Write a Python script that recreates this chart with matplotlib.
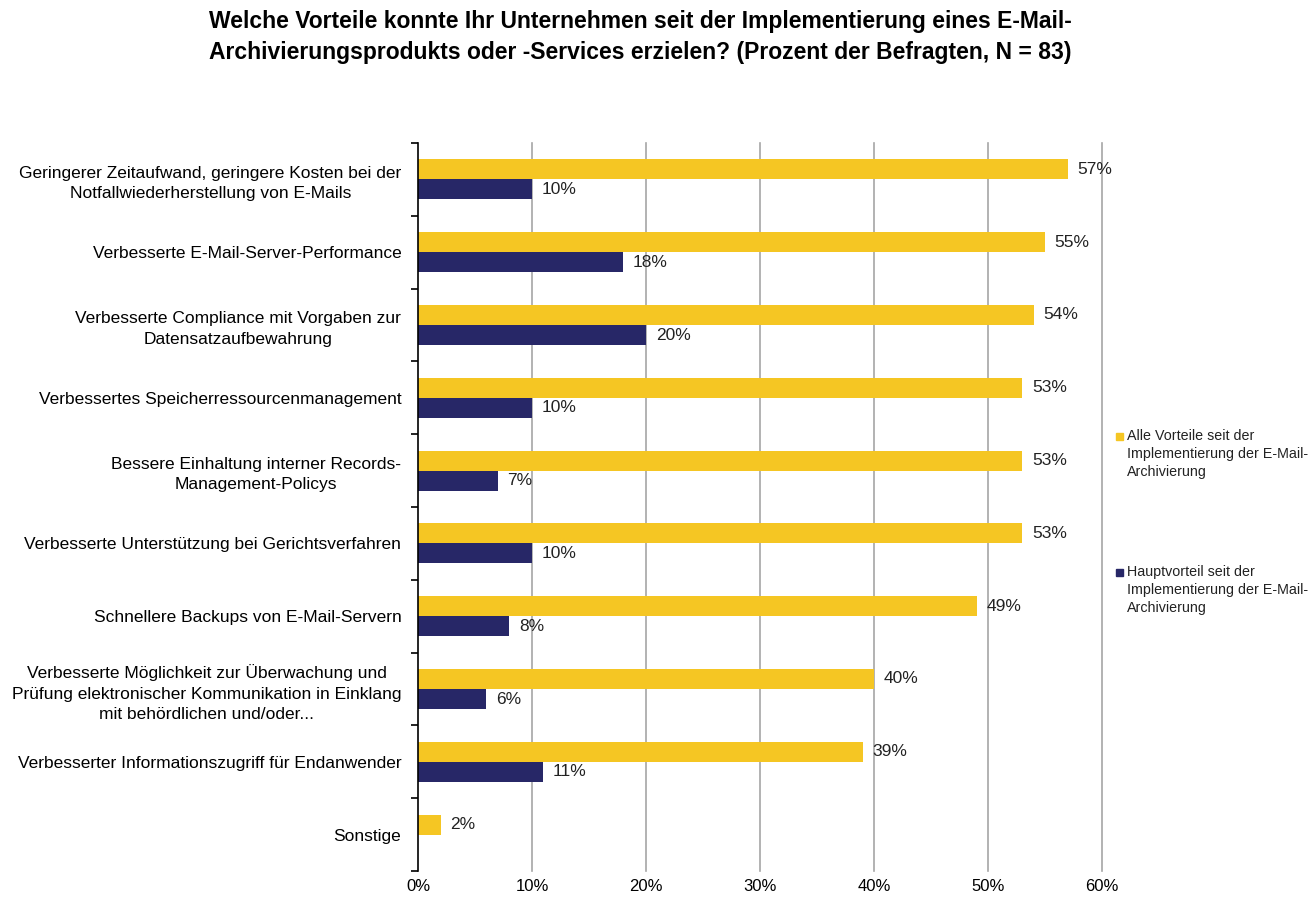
import numpy as np
import matplotlib
matplotlib.use("Agg")
import matplotlib.pyplot as plt
from matplotlib.patches import Rectangle

plt.rcParams['font.family'] = ['Liberation Sans', 'DejaVu Sans']

categories = [
    "Geringerer Zeitaufwand, geringere Kosten bei der\nNotfallwiederherstellung von E-Mails",
    "Verbesserte E-Mail-Server-Performance",
    "Verbesserte Compliance mit Vorgaben zur\nDatensatzaufbewahrung",
    "Verbessertes Speicherressourcenmanagement",
    "Bessere Einhaltung interner Records-\nManagement-Policys",
    "Verbesserte Unterstützung bei Gerichtsverfahren",
    "Schnellere Backups von E-Mail-Servern",
    "Verbesserte Möglichkeit zur Überwachung und\nPrüfung elektronischer Kommunikation in Einklang\nmit behördlichen und/oder...",
    "Verbesserter Informationszugriff für Endanwender",
    "Sonstige",
]
alle_vorteile = [57, 55, 54, 53, 53, 53, 49, 40, 39, 2]
hauptvorteil = [10, 18, 20, 10, 7, 10, 8, 6, 11, None]
series_names = ["Alle Vorteile seit der\nImplementierung der E-Mail-\nArchivierung",
                "Hauptvorteil seit der\nImplementierung der E-Mail-\nArchivierung"]
xticks = [0, 10, 20, 30, 40, 50, 60]
title = ("Welche Vorteile konnte Ihr Unternehmen seit der Implementierung eines E-Mail-\n"
         "Archivierungsprodukts oder -Services erzielen? (Prozent der Befragten, N = 83)")

YELLOW = "#F5C623"
NAVY = "#272767"
W, H = 1312, 905

fig = plt.figure(figsize=(W/100, H/100), dpi=100)
ax = fig.add_axes([418/W, 1-871/H, (1102-418)/W, (871-143)/H])

n = len(categories)
y = np.arange(n)
h = 0.275
a = np.array(alle_vorteile, dtype=float)
b = np.array([np.nan if v is None else v for v in hauptvorteil], dtype=float)

ax.barh(y - h/2, a, height=h, color=YELLOW, zorder=3)
mask = ~np.isnan(b)
ax.barh(y[mask] + h/2, b[mask], height=h, color=NAVY, zorder=3)

for yi, v in zip(y, a):
    ax.annotate(f"{int(v)}%", (v, yi - h/2), xytext=(7, 0), textcoords="offset points",
                va="center", ha="left", fontsize=12.5, color="#222222")
for yi, v in zip(y, b):
    if not np.isnan(v):
        ax.annotate(f"{int(v)}%", (v, yi + h/2), xytext=(7, 0), textcoords="offset points",
                    va="center", ha="left", fontsize=12.5, color="#222222")

ax.set_xlim(0, 60)
ax.set_ylim(n - 0.5, -0.5)
ax.set_xticks(xticks)
ax.set_xticklabels([f"{t}%" for t in xticks], fontsize=12)
ax.tick_params(axis='x', length=0, pad=6)
ax.set_yticks(y)
ax.set_yticklabels(categories, fontsize=12.5, multialignment='center', linespacing=1.45)
ax.set_yticks(np.arange(n + 1) - 0.5, minor=True)
ax.tick_params(axis='y', which='major', length=0, pad=12)
ax.tick_params(axis='y', which='minor', length=5, width=1.2, color='black')

for t in xticks[1:]:
    ax.axvline(t, color='#A6A6A6', linewidth=1.2, zorder=0, clip_on=False)
for s in ['top', 'right', 'bottom']:
    ax.spines[s].set_visible(False)
ax.spines['left'].set_color('black')
ax.spines['left'].set_linewidth(1.2)
ax.spines['left'].set_zorder(4)

fig.text(0.488, 1-37/H, title, ha='center', va='center', fontsize=16.5, fontweight='bold',
         linespacing=1.45)

# legend drawn manually (marker aligned with first line, as in reference)
leg_tops = [429, 565]
for name, col, top in zip(series_names, [YELLOW, NAVY], leg_tops):
    fig.patches.append(Rectangle((1116/W, 1-(top+11)/H), 7/W, 7/H, color=col,
                                 transform=fig.transFigure, figure=fig))
    fig.text(1127/W, 1-top/H, name, ha='left', va='top', fontsize=10.3,
             linespacing=1.38, color='#222222')

fig.savefig("out.png", dpi=100, facecolor='white')
